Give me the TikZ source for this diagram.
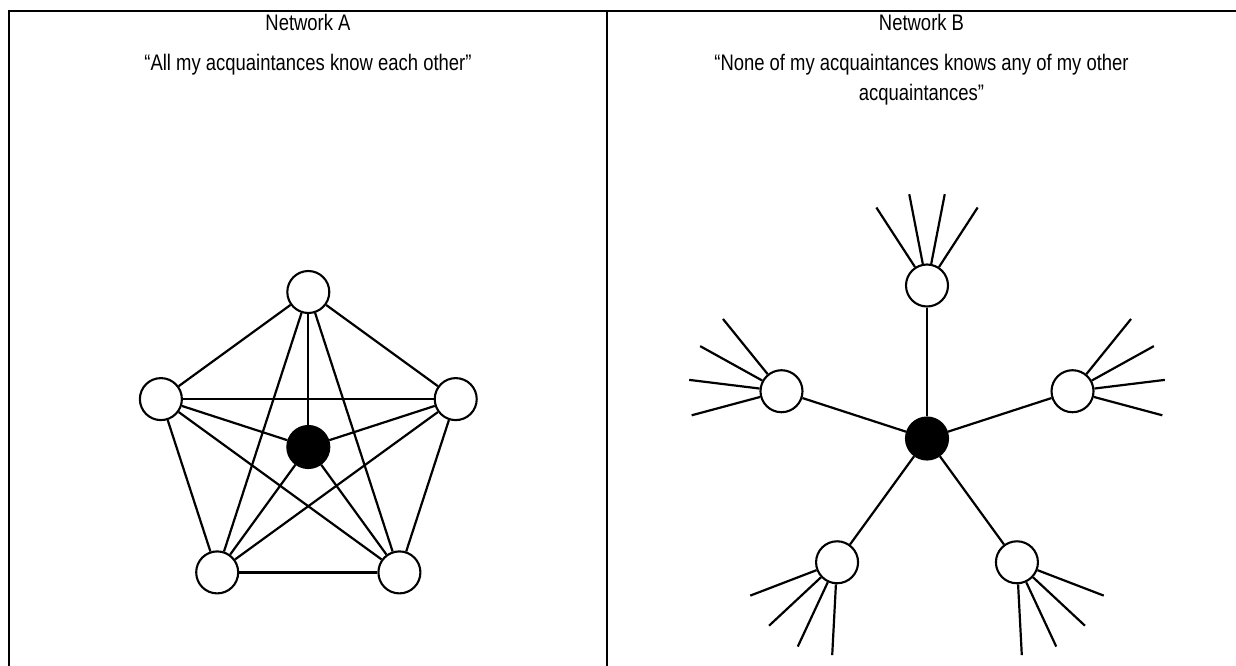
\documentclass[tikz,border=0pt]{standalone}
\usepackage{fontspec}
\setmainfont{Liberation Sans}
\newfontfamily\narrowsans[FakeStretch=0.82]{Liberation Sans}
\begin{document}
\begin{tikzpicture}[x=1pt,y=-1pt,
  vtx/.style={circle,draw=black,fill=white,line width=2.1pt,minimum size=42pt,inner sep=0pt},
  ego/.style={vtx,fill=black},
  edge/.style={line width=2.2pt},
  frame/.style={line width=2.2pt},
  lbl/.style={font=\narrowsans\fontsize{22.5}{27}\selectfont,anchor=base,inner sep=0pt}]
\useasboundingbox (0,0) rectangle (1236,666);
% frame
\coordinate (f1) at (9,666);
\coordinate (f2) at (9,11);
\coordinate (f3) at (1236,11);
\coordinate (m1) at (607,11);
\coordinate (m2) at (607,666);
\draw[frame] (f1) -- (f2) -- (f3);
\draw[frame] (m1) -- (m2);
% titles
\node[lbl] (ta) at (308,31) {Network A};
\node[lbl] (qa) at (308,71) {“All my acquaintances know each other”};
\node[lbl] (tb) at (921.5,31) {Network B};
\node[lbl] (qb1) at (921.5,71) {“None of my acquaintances knows any of my other};
\node[lbl] (qb2) at (921.5,101) {acquaintances”};
% Network A
\node[ego] (ac) at (308.3,447) {};
\foreach \i/\p in {1/270,2/342,3/54,4/126,5/198}
  \node[vtx] (a\i) at ([shift={(\p:155)}]ac) {};
\foreach \i in {1,...,5} \draw[edge] (ac) -- (a\i);
\foreach \i/\j in {1/2,1/3,1/4,1/5,2/3,2/4,2/5,3/4,3/5,4/5}
  \draw[edge] (a\i) -- (a\j);
% Network B
\node[ego] (bc) at (927,438.5) {};
\foreach \i/\p in {1/270,2/342,3/54,4/126,5/198} {
  \node[vtx] (b\i) at ([shift={(\p:153)}]bc) {};
  \draw[edge] (bc) -- (b\i);
  \foreach \d [count=\k] in {-33,-11,11,33} {
    \coordinate (b\i s\k) at ([shift={(\p+\d:93)}]b\i);
    \draw[edge] (b\i) -- (b\i s\k);
  }
}
\end{tikzpicture}
\end{document}
